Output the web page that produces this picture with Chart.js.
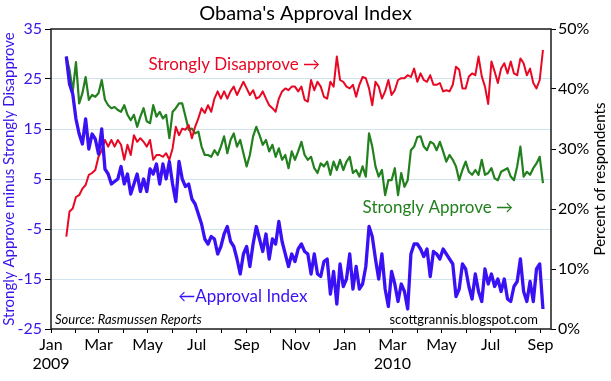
<!DOCTYPE html>
<html>
<head>
<meta charset="utf-8">
<script src="https://cdn.jsdelivr.net/npm/chart.js@4.4.1/dist/chart.umd.min.js"></script>
<style>
  html, body { margin: 0; padding: 0; background: #fff; }
  #wrap { width: 611px; height: 381px; }
</style>
</head>
<body>
<div id="wrap"><canvas id="approvalChart"></canvas></div>
<script>
  // sampled every 4 days starting 2009-01-20 (day 19 counted from 2009-01-01)
  const firstDay = 19;
  const stepDays = 4;

  const approvalIndex = [
    29.5, 24, 22, 17, 14, 12, 17, 11, 14, 13,
    10, 15, 7, 6, 4, 4.5, 5, 7.5, 4, 6,
    2, 4, 6, 2.5, 5, 2.5, 7, 6, 8, 4,
    8, 5, 8.5, 4, 0.5, 8.5, 5, 3.5, 4, 1,
    0, -2, -4, -7, -8, -6.5, -7, -10, -8.5, -6,
    -4.5, -7.5, -8.5, -11, -14, -10, -8.5, -12.5, -8, -4.5,
    -7, -9.5, -6, -11, -7, -8, -3.5, -7.5, -10, -12.5,
    -10, -11.5, -9, -8, -9.5, -10, -14, -10, -14, -14.5,
    -11.5, -11, -18, -13.5, -20, -12, -16.5, -15, -10, -17,
    -12.5, -17, -16, -12.5, -4.5, -6.5, -11, -15, -10, -17,
    -20.5, -13.5, -16, -19.5, -16, -17.5, -21, -10, -8, -8,
    -9, -10.5, -9, -14.5, -9.5, -10, -11, -9, -10, -11,
    -12, -18.5, -17, -12, -13, -16.5, -19, -14, -17.5, -19.5,
    -13, -16, -14, -16.5, -15, -17.5, -15, -19, -19.5, -16.5,
    -15.5, -11, -17.5, -19.5, -15.5, -19.5, -13, -12, -21
  ];

  const stronglyApprove = [
    45.4, 43.2, 39.6, 44.5, 37.6, 39.3, 42, 38.2, 39, 38.7,
    39.3, 41.5, 38.2, 37.3, 36.8, 37, 36.5, 36.2, 37.3, 35.7,
    34.8, 35.7, 33.7, 35.4, 36.8, 34.6, 34.3, 37.3, 35.4, 36.2,
    35.1, 35.7, 31.8, 36.2, 36.8, 37.6, 37.6, 35.4, 33.2, 33.4,
    32.6, 32.9, 30.4, 29, 29, 28.7, 29.8, 29, 30.4, 32.1,
    29.3, 31.5, 32.6, 30.4, 31.5, 29.3, 27.1, 29, 32.1, 33.7,
    32.3, 30.7, 31.5, 29.6, 30.7, 28.7, 30.1, 28.2, 29, 26.8,
    29.6, 28.2, 29.6, 31.2, 29, 28.2, 28.7, 26.8, 26, 27.6,
    27.1, 27.9, 25.7, 27.9, 26.5, 28.2, 26.5, 27.9, 28.7, 26,
    26.5, 25.4, 27.1, 25.4, 32.6, 30.4, 27.1, 25.4, 26.5, 22.3,
    24.8, 24.8, 26.8, 22.3, 26, 23.7, 24.8, 29.8, 30.4, 32,
    32.1, 30.4, 29.8, 31.2, 30.9, 29.8, 31.2, 29.6, 27.9, 29,
    28.2, 27.1, 24.8, 26.5, 27.9, 26.2, 25.7, 26.5, 25.7, 28.2,
    25.7, 26, 26.8, 25.1, 24.8, 26.2, 26.5, 26.8, 25.4, 24.8,
    27.1, 30.4, 25.4, 26.2, 25.7, 26.8, 27.6, 28.7, 24.3
  ];

  const stronglyDisapprove = [
    15.4, 19.6, 20.1, 22, 22.3, 23.4, 24, 25.7, 26, 26.5,
    28.7, 29.8, 31.5, 30.4, 31.5, 30.4, 31.5, 30.7, 28.2, 30.7,
    29, 32.3, 31.2, 31.8, 31.2, 30.4, 31.5, 28.2, 29, 29,
    28.7, 29.3, 28.2, 30.1, 33.7, 32.3, 33.4, 33.2, 34, 31.8,
    33.7, 35.1, 36.8, 36, 37.3, 36.2, 38.4, 39.6, 38.4, 39.6,
    38.4, 39.6, 40.4, 39, 40.1, 41.2, 40.1, 39, 39.8, 38.4,
    38.7, 39.6, 38.4, 37.3, 36.8, 36.2, 38.4, 39.6, 40.1, 39.8,
    40.4, 40.4, 39.6, 40.4, 38.2, 37.9, 41.5, 39.8, 41.2, 40.4,
    38.7, 38.4, 41.2, 40.4, 45.4, 41.5, 41.2, 40.4, 40.1, 40.7,
    38.7, 40.7, 42, 41.8, 40.1, 37.3, 41.2, 40.4, 38.4, 39.6,
    41.5, 39, 39.8, 41.5, 41.8, 41.8, 42.3, 42, 43.4, 41.2,
    42.6, 41.5, 41.2, 42.3, 40.7, 40.7, 41, 39.6, 39.8, 39.6,
    40.7, 43.7, 43.2, 40.1, 40.1, 42.1, 42.6, 42.3, 45.4, 42.1,
    40.4, 37.5, 44.6, 42.9, 41, 43.4, 44.3, 42.6, 44.6, 42.6,
    42.3, 45.1, 44.3, 42.3, 43.4, 41, 40.1, 41.5, 46.5
  ];

  const monthNames = ['Jan', 'Feb', 'Mar', 'Apr', 'May', 'Jun', 'Jul', 'Aug', 'Sep', 'Oct', 'Nov', 'Dec'];
  const yearLabels = { 0: '2009', 14: '2010' };
  const leftTicks = [-25, -15, -5, 5, 15, 25, 35];
  const rightTicks = [0, 10, 20, 30, 40, 50];

  const blueText = '#3a14e8';
  const blueLine = 'rgb(58, 16, 245)';
  const redLine = 'rgb(232, 8, 36)';
  const greenLine = 'rgb(34, 128, 30)';

  Chart.defaults.font.family = 'Lato, "DejaVu Sans", sans-serif';
  Chart.defaults.color = '#000';

  const dayMs = 864e5;
  const base = Date.UTC(2009, 0, 1);
  const monthStarts = [];
  for (let m = 0; m <= 20; m++) monthStarts.push((Date.UTC(2009, m, 1) - base) / dayMs);

  const toPoints = arr => arr.map((v, i) => ({ x: firstDay + i * stepDays, y: v }));

  const overlay = {
    id: 'overlay',
    afterDraw(chart) {
      const { ctx, chartArea: a, scales } = chart;
      const x = scales.x, yl = scales.y, yr = scales.y2;
      ctx.save();
      ctx.strokeStyle = '#1a1a1a';
      ctx.lineWidth = 1.5;
      ctx.strokeRect(a.left, a.top, a.right - a.left, a.bottom - a.top);

      ctx.fillStyle = '#000';
      ctx.textBaseline = 'middle';
      ctx.textAlign = 'center';
      ctx.font = '20px Lato, "DejaVu Sans", sans-serif';
      ctx.fillText("Obama's Approval Index", chart.width / 2, 14);

      ctx.font = '17px Lato, "DejaVu Sans", sans-serif';
      ctx.textAlign = 'left';
      ctx.fillStyle = redLine;
      ctx.fillText('Strongly Disapprove \u2192', x.getPixelForValue(121), yr.getPixelForValue(44));
      ctx.fillStyle = greenLine;
      ctx.fillText('Strongly Approve \u2192', x.getPixelForValue(387), yr.getPixelForValue(20.2));
      ctx.fillStyle = blueLine;
      ctx.fillText('\u2190Approval Index', x.getPixelForValue(158), yl.getPixelForValue(-18.6));

      ctx.fillStyle = '#000';
      ctx.font = 'italic 13px Lato, "DejaVu Sans", sans-serif';
      ctx.fillText('Source: Rasmussen Reports', a.left + 4, a.bottom - 9);
      ctx.font = '13px Lato, "DejaVu Sans", sans-serif';
      ctx.textAlign = 'right';
      ctx.fillText('scottgrannis.blogspot.com', a.right - 13, a.bottom - 9);

      ctx.translate(yr.right - 11, (a.top + a.bottom) / 2);
      ctx.rotate(-Math.PI / 2);
      ctx.textAlign = 'center';
      ctx.font = '15px Lato, "DejaVu Sans", sans-serif';
      ctx.fillText('Percent of respondents', 0, 0);
      ctx.restore();
    }
  };

  const config = {
    type: 'line',
    data: {
      datasets: [
        {
          label: 'Approval Index',
          data: toPoints(approvalIndex),
          yAxisID: 'y',
          borderColor: blueLine,
          borderWidth: 3.3,
          order: 0
        },
        {
          label: 'Strongly Disapprove',
          data: toPoints(stronglyDisapprove),
          yAxisID: 'y2',
          borderColor: redLine,
          borderWidth: 2,
          order: 1
        },
        {
          label: 'Strongly Approve',
          data: toPoints(stronglyApprove),
          yAxisID: 'y2',
          borderColor: greenLine,
          borderWidth: 2.2,
          order: 2
        }
      ]
    },
    options: {
      responsive: true,
      maintainAspectRatio: false,
      devicePixelRatio: 1,
      animation: false,
      elements: {
        point: { radius: 0 },
        line: { tension: 0, borderJoinStyle: 'round' }
      },
      layout: { padding: { top: 29, left: 0, right: 0, bottom: 0 } },
      plugins: {
        legend: { display: false },
        tooltip: { enabled: false }
      },
      scales: {
        x: {
          type: 'linear',
          min: 0,
          max: 621,
          afterBuildTicks: s => { s.ticks = monthStarts.map(v => ({ value: v })); },
          afterFit: s => { s.height = 52; },
          grid: { drawOnChartArea: false, tickLength: 4, tickColor: '#000' },
          border: { display: false },
          ticks: {
            autoSkip: false,
            maxRotation: 0,
            padding: 2,
            font: { size: 16 },
            callback: v => {
              const m = monthStarts.indexOf(v);
              if (m % 2 !== 0) return '';
              const name = monthNames[m % 12];
              return yearLabels[m] ? [name, yearLabels[m]] : name;
            }
          }
        },
        y: {
          position: 'left',
          min: -25,
          max: 35,
          afterBuildTicks: s => { s.ticks = leftTicks.map(v => ({ value: v })); },
          afterFit: s => { s.width = 51; },
          grid: {
            color: c => (c.tick && (c.tick.value === 35 || c.tick.value === -25)) ? 'rgba(0,0,0,0)' : '#cfe3ef',
            tickColor: '#000',
            tickLength: 6
          },
          border: { display: false },
          ticks: { color: blueText, font: { size: 16 }, padding: 3 },
          title: {
            display: true,
            text: 'Strongly Approve minus Strongly Disapprove',
            color: blueText,
            font: { size: 15 },
            padding: 0
          }
        },
        y2: {
          position: 'right',
          min: 0,
          max: 50,
          afterBuildTicks: s => { s.ticks = rightTicks.map(v => ({ value: v })); },
          afterFit: s => { s.width = 60; },
          grid: { drawOnChartArea: false, tickColor: '#000', tickLength: 5 },
          border: { display: false },
          ticks: { font: { size: 16 }, padding: 2, callback: v => v + '%' }
        }
      }
    },
    plugins: [overlay]
  };

  const approvalChart = new Chart(document.getElementById('approvalChart'), config);
</script>
</body>
</html>
